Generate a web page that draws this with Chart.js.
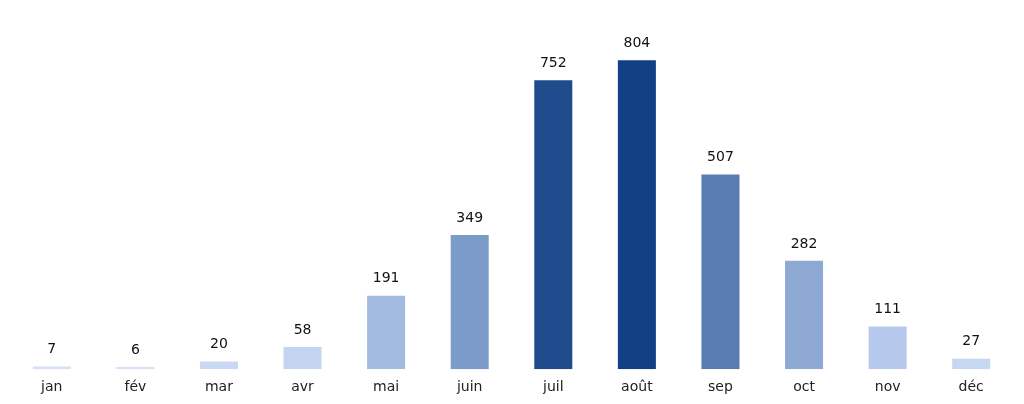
<!DOCTYPE html>
<html><head><meta charset="utf-8">
<script src="https://cdn.jsdelivr.net/npm/chart.js@4"></script>
<style>html,body{margin:0;padding:0;background:#fff}#w{width:1024px;height:404px}</style>
</head><body><div id="w"><canvas id="c"></canvas></div>
<script>
const months=['jan','fév','mar','avr','mai','juin','juil','août','sep','oct','nov','déc'];
const values=[7,6,20,58,191,349,752,804,507,282,111,27];
const colors=['#d3e0f5','#d3e0f5','#c9d9f3','#c3d4f1','#a3bbe0','#7b9bc9','#1f4a8c','#124084','#577db2','#8ea9d4','#b6c9ec','#c6d7f2'];
const labelPlugin={id:'lbl',afterDatasetsDraw(ch){const ctx=ch.ctx;const m=ch.getDatasetMeta(0);ctx.save();ctx.font='14px "DejaVu Sans"';ctx.fillStyle='#111';ctx.textAlign='center';ctx.textBaseline='bottom';m.data.forEach((b,i)=>ctx.fillText(values[i],b.x,b.y-10));ctx.restore();}};
new Chart(document.getElementById('c'),{type:'bar',data:{labels:months,datasets:[{data:values,backgroundColor:colors,barPercentage:0.455,categoryPercentage:1}]},
options:{responsive:true,maintainAspectRatio:false,animation:false,layout:{padding:{left:10,right:11,top:10,bottom:6}},
plugins:{legend:{display:false},tooltip:{enabled:false}},
scales:{x:{grid:{display:false},border:{display:false},ticks:{color:'#222',font:{family:'DejaVu Sans',size:14},padding:2}},
y:{display:false,min:0,max:935}}},plugins:[labelPlugin]});
</script></body></html>
